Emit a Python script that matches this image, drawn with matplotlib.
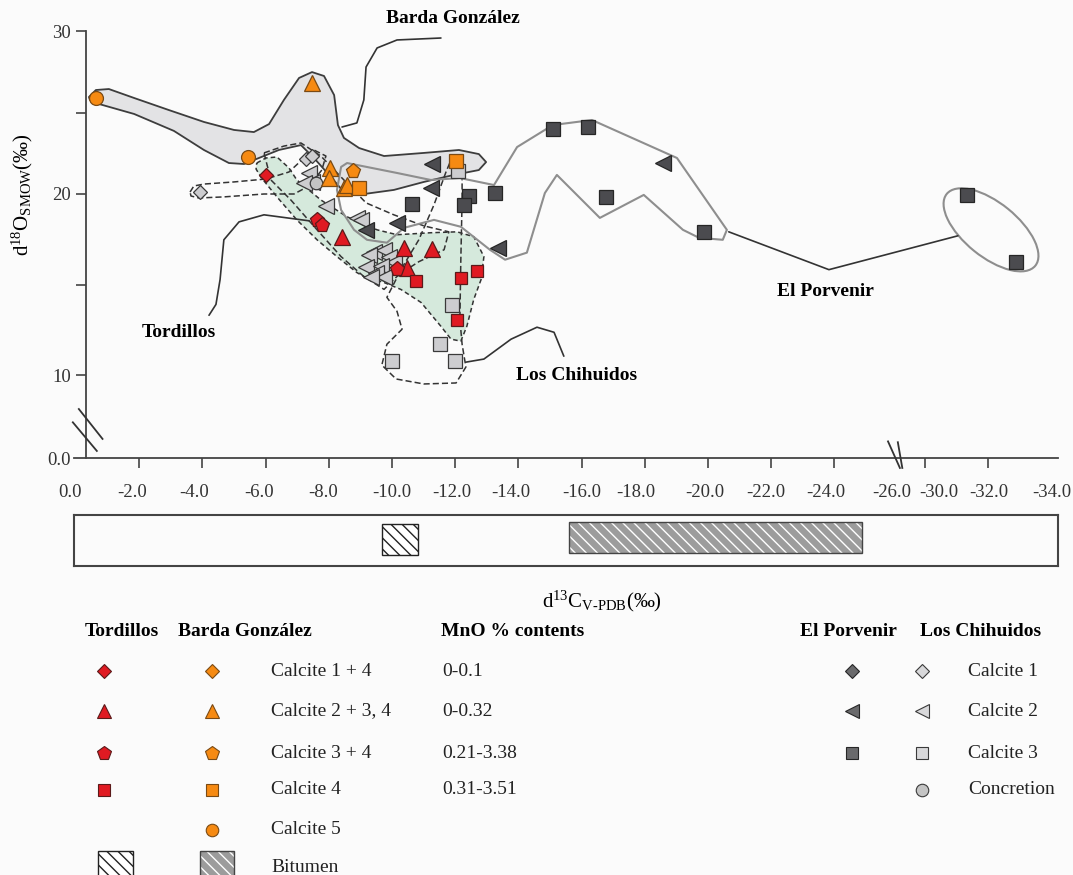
import numpy as np
import matplotlib
matplotlib.use('Agg')
import matplotlib.pyplot as plt
from matplotlib.patches import Polygon, Ellipse, Rectangle
from matplotlib.transforms import ScaledTranslation

plt.rcParams['font.family'] = ['Liberation Serif', 'DejaVu Serif']
plt.rcParams['mathtext.fontset'] = 'custom'
plt.rcParams['mathtext.rm'] = 'Liberation Serif'
plt.rcParams['mathtext.it'] = 'Liberation Serif:italic'
plt.rcParams['mathtext.bf'] = 'Liberation Serif:bold'
plt.rcParams['hatch.linewidth'] = 1.0

# ---- data: d13C (x) and d18O (y) ----
# Tordillos
tor_c14_x = [-6.01]
tor_c14_y = [21.17]
tor_c234_x = [-8.42, -10.38, -11.27, -10.47]
tor_c234_y = [17.64, 17.03, 16.98, 15.93]
tor_c34_x = [-7.63, -7.78, -10.16]
tor_c34_y = [18.57, 18.30, 15.88]
tor_c4_x = [-10.76, -12.18, -12.69, -12.06]
tor_c4_y = [15.22, 15.38, 15.77, 13.02]

# Barda Gonzalez
bg_c234_x = [-7.47, -8.04, -8.01, -8.48, -8.58]
bg_c234_y = [26.81, 21.60, 20.98, 20.37, 20.55]
bg_c34_x = [-8.77]
bg_c34_y = [21.41]
bg_c4_x = [-8.96, -12.03]
bg_c4_y = [20.37, 22.02]
bg_c5_x = [-0.63, -5.44]
bg_c5_y = [25.89, 22.27]

# El Porvenir
ep_c2_x = [-11.27, -11.23, -10.16, -9.18, -13.35, -18.58]
ep_c2_y = [21.84, 20.37, 18.41, 18.02, 17.03, 21.90]
ep_c3_x = [-10.63, -12.44, -12.28, -13.26, -15.09, -16.20, -16.77, -19.87, -31.33, -32.88]
ep_c3_y = [19.45, 19.89, 19.40, 20.05, 23.99, 24.11, 19.84, 17.91, 19.94, 16.26]

# Los Chihuidos
lc_c1_x = [-7.28, -7.47, -3.92]
lc_c1_y = [22.15, 22.33, 20.11]
lc_c2_x = [-7.37, -7.47, -7.22, -7.91, -8.89, -9.02, -9.43, -9.75, -9.27, -9.91,
           -10.06, -9.18, -9.65, -9.49, -9.75, -9.34]
lc_c2_y = [21.29, 20.74, 20.68, 19.34, 18.68, 18.57, 16.81, 16.92, 16.65, 16.54,
           16.26, 15.99, 16.04, 15.66, 15.44, 15.44]
lc_c3_x = [-12.09, -11.90, -11.52, -10.00, -11.99]
lc_c3_y = [21.41, 13.85, 11.70, 10.77, 10.77]
lc_conc_x = [-7.59]
lc_conc_y = [20.68]

# bitumen d13C ranges
bit_tor = [-9.68, -10.82]
bit_bg = [-15.6, -24.87]

# field envelopes (d13C, d18O)
barda_env_x = [-0.41, -0.63, -1.04, -1.84, -2.94, -4.05, -5.0, -5.63, -6.11, -6.58, -7.06, -7.47,
               -7.85, -8.17, -8.29, -8.48, -8.96, -9.75, -11.01, -12.12, -12.75, -12.98, -12.75,
               -11.96, -11.01, -10.06, -9.12, -8.48, -8.01, -7.53, -7.12, -6.42, -5.79, -5.32,
               -4.84, -4.05, -3.10, -1.84, -0.73, -0.44]
barda_env_y = [25.95, 26.38, 26.44, 25.89, 25.15, 24.42, 23.93, 23.80, 24.29, 25.77, 27.12, 27.48,
               27.24, 26.07, 24.23, 23.44, 22.82, 22.33, 22.52, 22.70, 22.45, 21.96, 21.47,
               21.17, 20.74, 20.25, 20.0, 20.12, 21.17, 22.21, 23.0, 22.70, 22.21, 21.84,
               21.90, 22.70, 23.87, 24.91, 25.52, 25.77]
tor_env_x = [-5.72, -6.01, -6.36, -6.74, -6.99, -7.75, -8.58, -9.53, -10.16, -11.23, -12.06, -12.59,
             -12.91, -12.82, -12.59, -12.37, -12.18, -11.87, -11.55, -10.92, -10.28, -9.75, -9.11,
             -8.89, -8.26, -7.63, -6.99, -6.36, -5.85, -5.70]
tor_env_y = [21.90, 22.21, 22.27, 21.60, 20.86, 19.67, 18.74, 18.02, 17.75, 17.86, 17.91, 17.64,
             16.54, 15.27, 14.18, 12.69, 11.87, 11.98, 12.69, 14.01, 14.73, 15.11, 15.44,
             15.66, 16.54, 17.47, 18.57, 19.84, 21.04, 21.53]
lc1_env_x = [-3.61, -3.73, -4.05, -5.0, -6.01, -6.74, -7.15, -7.53, -7.91, -7.78, -7.37, -6.90,
             -5.95, -4.68, -3.89, -3.64]
lc1_env_y = [20.12, 20.49, 20.61, 20.74, 20.92, 21.35, 22.09, 22.70, 22.33, 21.47, 20.49, 20.0,
             20.0, 19.84, 19.78, 19.89]
lc2_env_x = [-5.95, -6.58, -7.12, -7.75, -8.42, -9.18, -10.06, -11.01, -11.80, -11.65, -10.85,
             -10.22, -9.75, -9.11, -8.39, -7.63, -6.80, -6.17]
lc2_env_y = [22.52, 22.94, 23.13, 22.33, 20.98, 19.51, 18.85, 18.24, 17.91, 16.92, 16.26,
             15.55, 14.73, 15.44, 16.54, 18.02, 19.67, 20.86]
lc3_env_x = [-11.87, -12.22, -12.22, -12.18, -12.15, -12.22, -12.34, -12.03, -11.01, -10.13,
             -9.68, -9.84, -10.32, -10.16, -9.84, -10.32, -10.85, -11.33, -11.71]
lc3_env_y = [22.09, 22.21, 19.67, 16.37, 13.08, 11.70, 10.44, 9.04, 8.92, 9.52,
             10.55, 11.70, 12.53, 13.52, 14.29, 15.93, 17.47, 19.40, 21.35]
ep_env_x = [-8.58, -10.16, -11.23, -12.15, -13.23, -13.96, -15.09, -16.33, -19.02, -20.60, -20.47,
            -19.72, -19.21, -17.97, -16.58, -15.22, -14.84, -14.27, -13.58, -13.10, -12.18,
            -11.33, -10.38, -9.84, -9.21, -8.80, -8.39, -8.26, -8.39]
ep_env_y = [21.90, 21.29, 20.86, 20.98, 20.55, 22.88, 24.23, 24.54, 22.21, 18.02, 17.47,
            17.58, 18.02, 19.95, 18.68, 21.17, 20.06, 16.76, 16.37, 16.92, 18.19,
            18.57, 18.13, 17.31, 17.47, 18.02, 19.12, 20.25, 21.66]
ep_far_center = (-32.09, 18.02)

# label leader lines
barda_lead_x = [-8.42, -8.89, -9.11, -9.18, -9.53, -10.16, -11.55]
barda_lead_y = [24.11, 24.36, 25.77, 27.79, 28.96, 29.45, 29.57]
tor_lead_x = [-7.37, -5.95, -5.16, -4.68, -4.56, -4.43, -4.21]
tor_lead_y = [18.52, 18.85, 18.46, 17.47, 15.27, 13.90, 13.30]
lc_lead_x = [-12.34, -12.91, -13.77, -14.59, -15.13, -15.44]
lc_lead_y = [10.71, 10.88, 11.98, 12.64, 12.36, 11.04]
ep_lead_x = [-20.66, -23.83, -31.04]
ep_lead_y = [17.91, 15.82, 17.69]

xticks = [0, -2, -4, -6, -8, -10, -12, -14, -16, -18, -20, -22, -24, -26, -30, -32, -34]
yticks = [0, 10, 15, 20, 25, 30]
ylabels = ['0.0', '10', '', '20', '', '30']

RED, RED_E = '#e01a22', '#5a1a1a'
ORA, ORA_E = '#f68a12', '#7a4a14'
DRK, DRK_E = '#4b4b4f', '#262626'
LGT, LGT_E = '#cdcdd0', '#3a3a3a'


# broken axes: compress -26..-30 on x, 0..10 on y
def xfwd(c):
    return np.interp(c, [-60, -30, -26, 10], [-56.87, -26.87, -26, 10])


def xinv(p):
    return np.interp(p, [-56.87, -26.87, -26, 10], [-60, -30, -26, 10])


def yfwd(o):
    return np.interp(o, [-10, 0, 10, 20, 30, 45], [-83, 0, 83, 264, 427, 672])


def yinv(p):
    return np.interp(p, [-83, 0, 83, 264, 427, 672], [-10, 0, 10, 20, 30, 45])


fig = plt.figure(figsize=(10.73, 8.75), dpi=100, facecolor='#fbfbfb')
ax = fig.add_axes([74 / 1073, 1 - 458 / 875, 984 / 1073, 427 / 875])
ax.set_facecolor('none')
ax.set_xscale('function', functions=(xfwd, xinv))
ax.set_yscale('function', functions=(yfwd, yinv))
ax.set_xlim(0.063, -34.21)
ax.set_ylim(0, 30)

# envelopes
ax.add_patch(Polygon(np.column_stack([barda_env_x, barda_env_y]), closed=True,
                     facecolor='#e3e3e5', edgecolor='#3d3d3d', lw=1.3, zorder=1,
                     joinstyle='round'))
ax.add_patch(Polygon(np.column_stack([tor_env_x, tor_env_y]), closed=True,
                     facecolor='#d5e9dc', edgecolor='#333333', lw=1.1, ls=(0, (3, 2)),
                     zorder=1.5, joinstyle='round'))
for ex, ey in [(lc1_env_x, lc1_env_y), (lc2_env_x, lc2_env_y), (lc3_env_x, lc3_env_y)]:
    ax.add_patch(Polygon(np.column_stack([ex, ey]), closed=True, fill=False,
                         edgecolor='#333333', lw=1.1, ls=(0, (4, 2)), zorder=2,
                         joinstyle='round'))
ax.add_patch(Polygon(np.column_stack([ep_env_x, ep_env_y]), closed=True, fill=False,
                     edgecolor='#8e8e8e', lw=1.5, zorder=2, joinstyle='round'))
ax.add_patch(Ellipse((0, 0), 1.14, 0.54, angle=-39, fill=False, edgecolor='#8e8e8e', lw=1.5,
                     transform=fig.dpi_scale_trans + ScaledTranslation(*ep_far_center, ax.transData)))

for lx, ly in [(barda_lead_x, barda_lead_y), (tor_lead_x, tor_lead_y),
               (lc_lead_x, lc_lead_y), (ep_lead_x, ep_lead_y)]:
    ax.plot(lx, ly, color='#333333', lw=1.2, zorder=2, solid_capstyle='round')

ax.text(-11.93, 30.74, 'Barda González', ha='center', va='center', fontsize=14,
        fontweight='bold', clip_on=False)
ax.text(-3.26, 12.36, 'Tordillos', ha='center', va='center', fontsize=14, fontweight='bold')
ax.text(-15.85, 10.0, 'Los Chihuidos', ha='center', va='center', fontsize=14, fontweight='bold')
ax.text(-23.73, 14.62, 'El Porvenir', ha='center', va='center', fontsize=14, fontweight='bold')


def pts(x, y, m, fc, ec, ms, z=4):
    ax.plot(x, y, ls='none', marker=m, ms=ms, mfc=fc, mec=ec, mew=0.9, zorder=z)


pts(lc_c1_x, lc_c1_y, 'D', LGT, LGT_E, 7)
pts(lc_c2_x, lc_c2_y, '<', LGT, LGT_E, 11)
pts(lc_c3_x, lc_c3_y, 's', LGT, LGT_E, 9.5)
pts(lc_conc_x, lc_conc_y, 'o', '#c4c4c4', LGT_E, 9)
pts(ep_c2_x, ep_c2_y, '<', DRK, DRK_E, 11)
pts(ep_c3_x, ep_c3_y, 's', DRK, DRK_E, 9.5)
pts(bg_c234_x, bg_c234_y, '^', ORA, ORA_E, 11, 5)
pts(bg_c34_x, bg_c34_y, 'p', ORA, ORA_E, 11, 5)
pts(bg_c4_x, bg_c4_y, 's', ORA, ORA_E, 10, 5)
pts(bg_c5_x, bg_c5_y, 'o', ORA, ORA_E, 10, 5)
pts(tor_c14_x, tor_c14_y, 'D', RED, RED_E, 7, 5)
pts(tor_c234_x, tor_c234_y, '^', RED, RED_E, 11, 5)
pts(tor_c34_x, tor_c34_y, 'p', RED, RED_E, 11, 5)
pts(tor_c4_x, tor_c4_y, 's', RED, RED_E, 9, 5)

# axes styling
for s in ['top', 'right']:
    ax.spines[s].set_visible(False)
ax.spines['left'].set_position(('data', -0.32))
for s in ['left', 'bottom']:
    ax.spines[s].set_color('#444444')
    ax.spines[s].set_linewidth(1.3)
ax.set_xticks(xticks)
ax.set_xticklabels(['%.1f' % v if v != 0 else '0.0' for v in xticks])
ax.set_yticks(yticks)
ax.set_yticklabels(ylabels)
ax.tick_params(axis='both', direction='out', length=7, width=1.2, color='#444444',
               labelsize=13.5, labelcolor='#333333')
ax.tick_params(axis='x', pad=12)
ax.tick_params(axis='y', pad=4)
ticks = ax.xaxis.get_major_ticks()
for i in [0, 13, 16]:
    ticks[i].tick1line.set_visible(False)
ax.yaxis.get_major_ticks()[0].tick1line.set_visible(False)
# nudge the crowded labels around the x break
for lab, dx in zip(ax.get_xticklabels(), [-6, -7, -8, -7, -6, 0, -3, -8, 0, -9, -3, -5, -8, -6, 14, 1, 0]):
    lab.set_transform(lab.get_transform() + ScaledTranslation(dx / 100, 0, fig.dpi_scale_trans))
ax.set_ylabel(r'd$^{18}$O$_{\rm SMOW}$(‰)', fontsize=15)
ax.yaxis.set_label_coords(-0.040, 0.616)

# axis break marks
brk = dict(color='#333333', lw=1.3, clip_on=False, zorder=6)
ax.plot([0.1, -0.66], [4.3, 0.85], **brk)
ax.plot([-0.09, -0.84], [5.9, 2.3], **brk)
ax.plot([-25.7, -26.35], [2.0, -1.2], **brk)
ax.plot([-26.05, -26.7], [1.9, -1.2], **brk)

# bitumen bar
ax2 = fig.add_axes([74 / 1073, 1 - 566 / 875, 984 / 1073, 51 / 875], sharex=ax)
ax2.set_facecolor('none')
ax2.set_ylim(0, 1)
ax2.tick_params(bottom=False, labelbottom=False, left=False, labelleft=False)
for s in ax2.spines.values():
    s.set_color('#444444')
    s.set_linewidth(1.5)
ax2.barh(0.52, bit_tor[1] - bit_tor[0], left=bit_tor[0], height=0.6, facecolor='white',
         edgecolor='#222222', hatch='\\\\\\', lw=1)
ax2.barh(0.56, bit_bg[1] - bit_bg[0], left=bit_bg[0], height=0.6, facecolor='#9c9c9c',
         edgecolor='white', hatch='\\\\\\', lw=0)
ax2.barh(0.56, bit_bg[1] - bit_bg[0], left=bit_bg[0], height=0.6, fill=False,
         edgecolor='#444444', lw=1)
ax2.set_xlabel(r'd$^{13}$C$_{\rm V\text{-}PDB}$(‰)', fontsize=15)
ax2.xaxis.set_label_coords(0.537, -0.45)

# legend
lax = fig.add_axes([0, 0, 1, 275 / 875])
lax.set_xlim(0, 1073)
lax.set_ylim(875, 600)
lax.axis('off')

hdr = dict(fontsize=14, fontweight='bold', va='center')
lax.text(122, 631, 'Tordillos', ha='center', **hdr)
lax.text(245, 631, 'Barda González', ha='center', **hdr)
lax.text(441, 631, 'MnO % contents', ha='left', **hdr)
lax.text(848, 631, 'El Porvenir', ha='center', **hdr)
lax.text(981, 631, 'Los Chihuidos', ha='center', **hdr)

rows = [671, 711, 753, 790, 830, 867]
left_labels = ['Calcite 1 + 4', 'Calcite 2 + 3, 4', 'Calcite 3 + 4', 'Calcite 4', 'Calcite 5', 'Bitumen']
mno_labels = ['0-0.1', '0-0.32', '0.21-3.38', '0.31-3.51']
right_labels = ['Calcite 1', 'Calcite 2', 'Calcite 3', 'Concretion']
left_marks = ['D', '^', 'p', 's', 'o']
right_marks = ['D', '<', 's', 'o']
lms = {'D': 7, '^': 10, 'p': 10, 's': 9, 'o': 9, '<': 10}

for i, m in enumerate(left_marks):
    if i < 4:
        lax.plot(104, rows[i], marker=m, ms=lms[m], mfc=RED, mec=RED_E, mew=0.8)
    lax.plot(212, rows[i], marker=m, ms=lms[m], mfc=ORA, mec=ORA_E, mew=0.8)
for i, t in enumerate(left_labels):
    lax.text(271, rows[i], t, fontsize=14, va='center', color='#222222')
for i, t in enumerate(mno_labels):
    lax.text(442, rows[i], t, fontsize=14, va='center', color='#222222')
for i, m in enumerate(right_marks):
    if i < 3:
        lax.plot(852, rows[i], marker=m, ms=lms[m], mfc='#6a6a6c', mec=DRK_E, mew=0.8)
    lax.plot(922, rows[i], marker=m, ms=lms[m], mfc='#d8d8da' if m != 'o' else '#c4c4c4',
             mec=LGT_E, mew=0.8)
    lax.text(968, rows[i], right_labels[i], fontsize=14, va='center', color='#222222')

lax.add_patch(Rectangle((98, 851), 35, 30, facecolor='white', edgecolor='#222222',
                        hatch='\\\\\\', lw=1, clip_on=False))
lax.add_patch(Rectangle((200, 851), 34, 30, facecolor='#9c9c9c', edgecolor='white',
                        hatch='\\\\\\', lw=0, clip_on=False))
lax.add_patch(Rectangle((200, 851), 34, 30, fill=False, edgecolor='#444444', lw=1,
                        clip_on=False))

fig.savefig('out.png', dpi=100, facecolor=fig.get_facecolor())
